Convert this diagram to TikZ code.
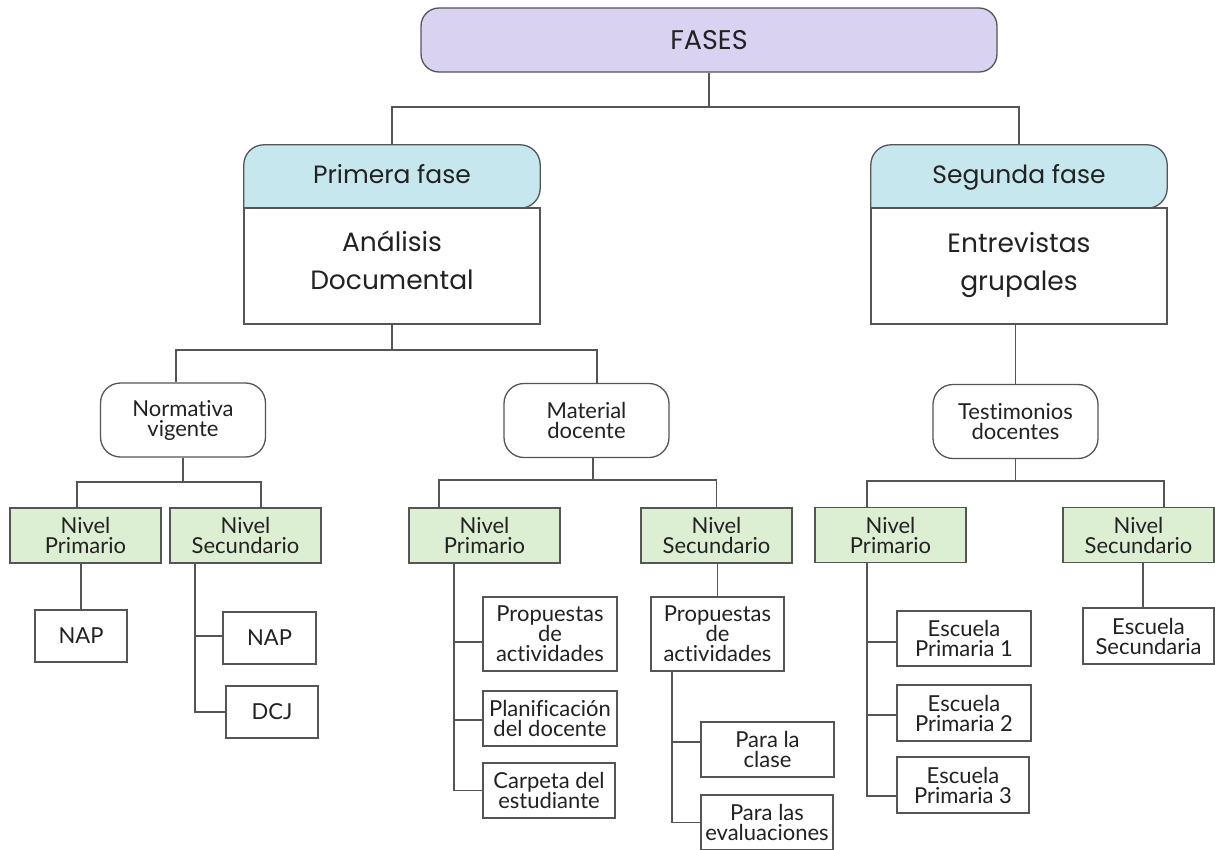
\documentclass[tikz,border=0pt]{standalone}
\usepackage{fontspec}
\setmainfont{Lato}[Ligatures=NoCommon]
\newfontfamily\headfont{Poppins}
\usetikzlibrary{backgrounds}
\definecolor{lav}{HTML}{D9D3F1}
\definecolor{sky}{HTML}{C7E7EE}
\definecolor{leafgreen}{HTML}{DDEFD3}
\definecolor{edge}{HTML}{555555}
\definecolor{ink}{HTML}{222222}

\begin{document}
\begin{tikzpicture}[x=1pt,y=-1pt,
  every node/.style={inner sep=0pt, align=center, text=ink},
  conn/.style={draw=edge, line width=1.4pt},
  boxline/.style={draw=edge, line width=1.3pt},
  txt/.style={font=\fontsize{22}{20}\selectfont},
  topbox/.style={boxline, fill=lav, rounded corners=18pt, minimum width=576pt, minimum height=64pt,
    text height=19pt, text depth=0pt, font=\headfont\fontsize{27}{30}\selectfont},
  phasehead/.style={minimum width=296pt, minimum height=63pt, text height=18pt, text depth=4pt,
    font=\headfont\fontsize{25}{28}\selectfont},
  phasebody/.style={boxline, fill=white, minimum width=296pt, minimum height=116pt},
  bodytext/.style={font=\headfont\fontsize{26.5}{38}\selectfont},
  midbox/.style={boxline, fill=white, rounded corners=20pt, minimum width=165pt, minimum height=74pt, txt},
  levelbox/.style={boxline, fill=leafgreen, minimum width=151pt, minimum height=55pt, txt},
  leafbox/.style={boxline, fill=white, minimum width=134pt, minimum height=55pt, txt}]

\useasboundingbox (0,0) rectangle (1215,849);

% top level
\node[topbox] (fases) at (709,40) {FASES};

% phase boxes: header strip + body
\node[phasehead] (h1) at (392,176.5) {Primera fase};
\node[phasebody, label={[bodytext, yshift=6pt]center:Análisis\\Documental}] (b1) at (392,266) {};
\node[phasehead] (h2) at (1019,176.5) {Segunda fase};
\node[phasebody, label={[bodytext, yshift=1pt]center:Entrevistas\\grupales}] (b2) at (1019,266) {};

% second level
\node[midbox] (nv) at (183,420) {Normativa\\vigente};
\node[midbox] (md) at (586.5,420.5) {Material\\docente};
\node[midbox] (tm) at (1015.5,421.5) {Testimonios\\docentes};

% school levels
\node[levelbox] (npa) at (85.5,535.5) {Nivel\\Primario};
\node[levelbox] (nsa) at (245.5,535.5) {Nivel\\Secundario};
\node[levelbox] (npb) at (484.5,535.5) {Nivel\\Primario};
\node[levelbox] (nsb) at (716.5,535.5) {Nivel\\Secundario};
\node[levelbox] (npc) at (890.5,535) {Nivel\\Primario};
\node[levelbox] (nsc) at (1138.5,535) {Nivel\\Secundario};

% leaves: Normativa vigente
\node[leafbox, minimum width=92pt, minimum height=52pt] (nap1) at (81,636) {NAP};
\node[leafbox, minimum width=93pt, minimum height=52pt] (nap2) at (269.5,638) {NAP};
\node[leafbox, minimum width=92pt, minimum height=52pt] (dcj) at (272,712) {DCJ};

% leaves: Material docente
\node[leafbox, minimum height=74pt] (props) at (550,634) {Propuestas\\de\\actividades};
\node[leafbox] (plan) at (550,718.5) {Planificación\\del docente};
\node[leafbox, minimum width=132pt] (carp) at (549,790.5) {Carpeta del\\estudiante};
\node[leafbox, minimum width=133pt, minimum height=74pt] (props2) at (717.5,634) {Propuestas\\de\\actividades};
\node[leafbox, minimum width=133pt] (clase) at (767.5,749.5) {Para la\\clase};
\node[leafbox, minimum width=132pt] (eval) at (767,822.5) {Para las\\evaluaciones};

% leaves: Testimonios docentes
\node[leafbox] (ep1) at (964,638.5) {Escuela\\Primaria 1};
\node[leafbox, minimum height=56pt] (ep2) at (964,713) {Escuela\\Primaria 2};
\node[leafbox, minimum width=132pt, minimum height=56pt] (ep3) at (963,785) {Escuela\\Primaria 3};
\node[leafbox, minimum width=131pt, minimum height=56pt] (es) at (1148.5,636) {Escuela\\Secundaria};

% header strips with rounded top corners, behind their labels
\begin{scope}[on background layer]
  \fill[white] (0,0) rectangle (1215,849);
  \path[boxline, fill=sky] (h1.south west) [rounded corners=20pt] -- (h1.north west) -- (h1.north east)
    -- (h1.south east) [sharp corners] -- cycle;
  \path[boxline, fill=sky] (h2.south west) [rounded corners=20pt] -- (h2.north west) -- (h2.north east)
    -- (h2.south east) [sharp corners] -- cycle;
\end{scope}

% connectors: top
\coordinate (fj) at (709,107);
\draw[conn] (fases.south) -- (fj);
\draw[conn] (h1.north) |- (fj) -| (h2.north);

% connectors: first phase
\coordinate (pj) at (392,350);
\draw[conn] (b1.south) -- (pj);
\draw[conn] ([xshift=-7pt]nv.north) |- (pj) -| ([xshift=10.5pt]md.north);

\coordinate (nj) at (183,482);
\draw[conn] (nv.south) -- (nj);
\draw[conn] ([xshift=-8.5pt]npa.north) |- (nj) -| ([xshift=15.5pt]nsa.north);

\coordinate (mj) at (593,480);
\draw[conn] ([xshift=6.5pt]md.south) -- (mj);
\draw[conn] ([xshift=-45.5pt]npb.north) |- (mj) -| (nsb.north);

% connectors: second phase
\draw[conn] (b2.south -| tm.north) -- (tm.north);
\coordinate (tj) at (1015.5,481);
\draw[conn] (tm.south) -- (tj);
\draw[conn] ([xshift=-23.5pt]npc.north) |- (tj) -| ([xshift=25.5pt]nsc.north);

% Normativa vigente branches
\draw[conn] (nap1.north |- npa.south) -- (nap1.north);
\coordinate (sa) at ([xshift=-50.5pt]nsa.south);
\draw[conn] (sa) |- (dcj.west);
\coordinate (sab) at ([yshift=2pt]nap2.west);
\draw[conn] (sab -| sa) -- (sab);

% Material docente branches
\coordinate (sb) at ([xshift=-30.5pt]npb.south);
\draw[conn] (sb) |- (carp.west);
\coordinate (pb) at ([yshift=-8pt]props.west);
\draw[conn] (pb -| sb) -- (pb);
\coordinate (plb) at ([yshift=-1.5pt]plan.west);
\draw[conn] (plb -| sb) -- (plb);

\draw[conn] (props2.north |- nsb.south) -- (props2.north);
\coordinate (s2) at ([xshift=-45.5pt]props2.south);
\draw[conn] (s2) |- (eval.west);
\coordinate (cb) at ([yshift=7.5pt]clase.west);
\draw[conn] (cb -| s2) -- (cb);

% Testimonios docentes branches
\coordinate (s3) at ([xshift=-23.5pt]npc.south);
\coordinate (e3b) at ([yshift=-11pt]ep3.west);
\draw[conn] (s3) |- (e3b);
\coordinate (e1b) at ([yshift=-3.5pt]ep1.west);
\draw[conn] (e1b -| s3) -- (e1b);
\coordinate (e2b) at ([yshift=-2pt]ep2.west);
\draw[conn] (e2b -| s3) -- (e2b);

\coordinate (ns3) at ([xshift=4.5pt]nsc.south);
\draw[conn] (ns3) -- (ns3 |- es.north);

\end{tikzpicture}
\end{document}
